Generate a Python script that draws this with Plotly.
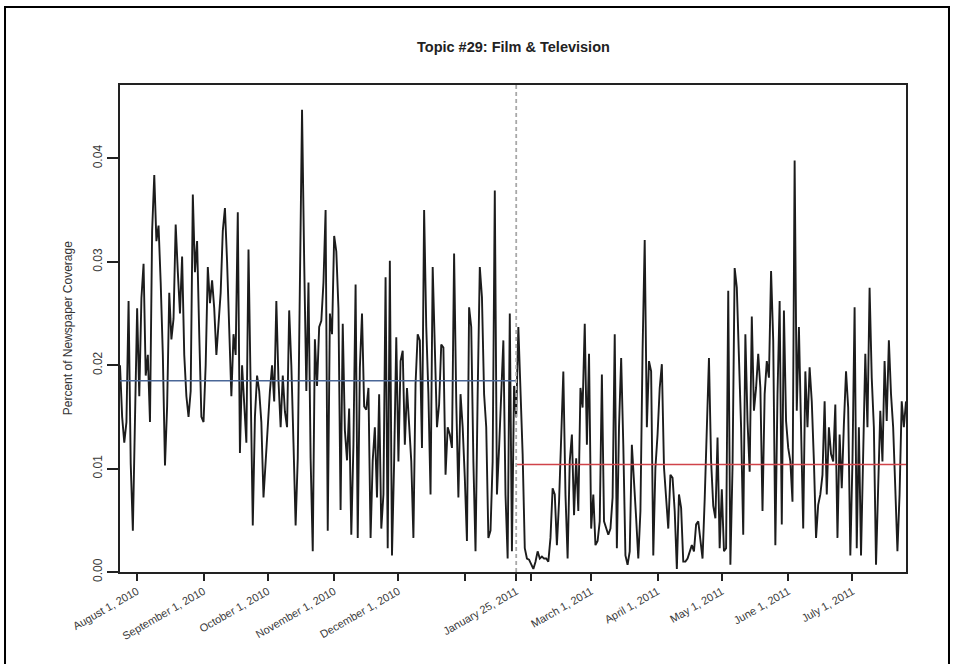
import pandas as pd
import plotly.graph_objects as go

# Daily share of newspaper coverage for topic #29, split at January 25, 2011
coverage_before = [
    0.0200, 0.0150, 0.0125, 0.0145, 0.0262, 0.0105, 0.0040, 0.0160, 0.0255, 0.0170,
    0.0265, 0.0298, 0.0190, 0.0210, 0.0145, 0.0330, 0.0384, 0.0320, 0.0335, 0.0280,
    0.0210, 0.0103, 0.0160, 0.0270, 0.0225, 0.0245, 0.0336, 0.0290, 0.0250, 0.0305,
    0.0210, 0.0170, 0.0150, 0.0175, 0.0365, 0.0290, 0.0320, 0.0230, 0.0150, 0.0145,
    0.0200, 0.0295, 0.0260, 0.0282, 0.0255, 0.0210, 0.0240, 0.0270, 0.0330, 0.0352,
    0.0300, 0.0225, 0.0170, 0.0230, 0.0210, 0.0348, 0.0115, 0.0200, 0.0165, 0.0125,
    0.0312, 0.0180, 0.0045, 0.0150, 0.0190, 0.0175, 0.0145, 0.0072, 0.0110, 0.0150,
    0.0175, 0.0200, 0.0165, 0.0262, 0.0185, 0.0140, 0.0190, 0.0155, 0.0140, 0.0253,
    0.0200, 0.0125, 0.0045, 0.0110, 0.0255, 0.0447, 0.0300, 0.0175, 0.0280, 0.0110,
    0.0020, 0.0225, 0.0180, 0.0237, 0.0243, 0.0280, 0.0350, 0.0040, 0.0250, 0.0230,
    0.0325, 0.0310, 0.0255, 0.0060, 0.0240, 0.0137, 0.0108, 0.0158, 0.0036, 0.0123,
    0.0278, 0.0033, 0.0198, 0.0250, 0.0160, 0.0157, 0.0178, 0.0033, 0.0108, 0.0140,
    0.0072, 0.0172, 0.0042, 0.0075, 0.0285, 0.0023, 0.0301, 0.0016, 0.0107, 0.0227,
    0.0107, 0.0204, 0.0214, 0.0123, 0.0178, 0.0140, 0.0107, 0.0033, 0.0182, 0.0230,
    0.0224, 0.0120, 0.0350, 0.0237, 0.0172, 0.0075, 0.0295, 0.0217, 0.0140, 0.0162,
    0.0220, 0.0217, 0.0094, 0.0140, 0.0133, 0.0120, 0.0308, 0.0165, 0.0072, 0.0172,
    0.0140, 0.0091, 0.0030, 0.0256, 0.0237, 0.0107, 0.0020, 0.0172, 0.0295, 0.0266,
    0.0172, 0.0140, 0.0033, 0.0040, 0.0107, 0.0369, 0.0075, 0.0120, 0.0172, 0.0224,
    0.0075, 0.0013, 0.0250, 0.0020, 0.0180,
]
coverage_after = [
    0.0150, 0.0237, 0.0182, 0.0114, 0.0023, 0.0013, 0.0012, 0.0008, 0.0003, 0.0010,
    0.0020, 0.0013, 0.0015, 0.0013, 0.0013, 0.0010, 0.0033, 0.0081, 0.0075, 0.0026,
    0.0068, 0.0130, 0.0194, 0.0075, 0.0013, 0.0107, 0.0133, 0.0055, 0.0110, 0.0059,
    0.0178, 0.0159, 0.0240, 0.0123, 0.0211, 0.0042, 0.0075, 0.0026, 0.0030, 0.0049,
    0.0191, 0.0049, 0.0042, 0.0036, 0.0042, 0.0072, 0.0230, 0.0023, 0.0140, 0.0207,
    0.0123, 0.0016, 0.0007, 0.0020, 0.0123, 0.0081, 0.0052, 0.0013, 0.0059, 0.0214,
    0.0321, 0.0140, 0.0204, 0.0194, 0.0016, 0.0101, 0.0133, 0.0178, 0.0201, 0.0101,
    0.0075, 0.0042, 0.0094, 0.0091, 0.0059, 0.0003, 0.0075, 0.0062, 0.0010, 0.0010,
    0.0013, 0.0020, 0.0026, 0.0020, 0.0046, 0.0049, 0.0033, 0.0013, 0.0070, 0.0130,
    0.0207, 0.0107, 0.0064, 0.0052, 0.0130, 0.0023, 0.0080, 0.0020, 0.0023, 0.0272,
    0.0007, 0.0101, 0.0294, 0.0275, 0.0214, 0.0140, 0.0036, 0.0230, 0.0146, 0.0097,
    0.0247, 0.0156, 0.0178, 0.0211, 0.0178, 0.0059, 0.0172, 0.0204, 0.0188, 0.0291,
    0.0224, 0.0026, 0.0172, 0.0262, 0.0046, 0.0253, 0.0146, 0.0120, 0.0107, 0.0068,
    0.0398, 0.0156, 0.0237, 0.0146, 0.0042, 0.0194, 0.0140, 0.0198, 0.0165, 0.0107,
    0.0033, 0.0065, 0.0075, 0.0094, 0.0165, 0.0075, 0.0140, 0.0114, 0.0107, 0.0162,
    0.0033, 0.0133, 0.0081, 0.0143, 0.0194, 0.0159, 0.0016, 0.0107, 0.0256, 0.0023,
    0.0140, 0.0016, 0.0107, 0.0211, 0.0140, 0.0275, 0.0188, 0.0140, 0.0007, 0.0091,
    0.0156, 0.0107, 0.0204, 0.0146, 0.0224, 0.0172, 0.0140, 0.0081, 0.0020, 0.0075,
    0.0165, 0.0140, 0.0165,
]

first_day = "2010-07-24"
break_day = "2011-01-25"

# Average coverage before and after the break
mean_before = 0.0185
mean_after = 0.0104

tick_dates = [
    "2010-08-01", "2010-09-01", "2010-10-01", "2010-11-01", "2010-12-01",
    "2011-01-01", "2011-01-25", "2011-02-01", "2011-03-01", "2011-04-01",
    "2011-05-01", "2011-06-01", "2011-07-01",
]
tick_labels = [
    "August 1, 2010", "September 1, 2010", "October 1, 2010", "November 1, 2010",
    "December 1, 2010", "", "January 25, 2011", "", "March 1, 2011",
    "April 1, 2011", "May 1, 2011", "June 1, 2011", "July 1, 2011",
]
y_ticks = [0.00, 0.01, 0.02, 0.03, 0.04]
y_tick_labels = ["0.00", "0.01", "0.02", "0.03", "0.04"]

coverage = coverage_before + coverage_after
days = pd.date_range(first_day, periods=len(coverage), freq="D")
last_day = days[-1]

FONT = "Liberation Sans, Arial, Helvetica, sans-serif"
INK = "#222222"

fig = go.Figure()
fig.add_trace(go.Scatter(
    x=days, y=coverage, mode="lines",
    line=dict(color="#1c1c1c", width=1.9),
    hoverinfo="x+y", showlegend=False,
))
fig.add_trace(go.Scatter(
    x=[days[0], pd.Timestamp(break_day)], y=[mean_before, mean_before],
    mode="lines", line=dict(color="#4a6797", width=1.5), showlegend=False,
))
fig.add_trace(go.Scatter(
    x=[pd.Timestamp(break_day), last_day], y=[mean_after, mean_after],
    mode="lines", line=dict(color="#d0434a", width=1.5), showlegend=False,
))

# Break marker
fig.add_shape(
    type="line", xref="x", yref="paper",
    x0=break_day, x1=break_day, y0=0, y1=1,
    line=dict(color="#a8a8a8", width=1.8, dash="4px,3px"), layer="above",
)

# Frame around the whole figure
fig.add_shape(
    type="rect", xref="paper", yref="paper",
    x0=-0.1463, x1=1.0547, y0=-0.23, y1=1.1602,
    line=dict(color="#000000", width=2), fillcolor="rgba(0,0,0,0)", layer="above",
)

fig.add_annotation(
    text="<b>Topic #29: Film &amp; Television</b>", xref="paper", yref="paper",
    x=0.5, y=1.078, xanchor="center", yanchor="middle", showarrow=False,
    font=dict(family=FONT, size=14.5, color=INK),
)
fig.add_annotation(
    text="Percent of Newspaper Coverage", xref="paper", yref="paper",
    x=-0.0665, y=0.5, xanchor="center", yanchor="middle", textangle=-90,
    showarrow=False, font=dict(family=FONT, size=12, color="#333333"),
)

fig.update_layout(
    width=953, height=664,
    margin=dict(l=120, r=47, t=85, b=92),
    paper_bgcolor="white", plot_bgcolor="white",
    font=dict(family=FONT, size=11, color="#3a3a3a"),
    showlegend=False,
)
fig.update_xaxes(
    range=[days[0], last_day],
    tickmode="array", tickvals=tick_dates, ticktext=tick_labels,
    tickangle=-30, tickfont=dict(size=11, color="#3a3a3a"),
    ticks="outside", ticklen=7, tickwidth=1.5, tickcolor=INK,
    showline=True, linecolor=INK, linewidth=1.8, mirror=True,
    showgrid=False, zeroline=False,
)
fig.update_yaxes(
    range=[0, 0.0471],
    tickmode="array", tickvals=y_ticks, ticktext=y_tick_labels,
    tickangle=-90, tickfont=dict(size=12, color="#3a3a3a"),
    ticks="outside", ticklen=11, tickwidth=1.5, tickcolor=INK,
    showline=True, linecolor=INK, linewidth=1.8, mirror=True,
    showgrid=False, zeroline=False,
)

fig.write_html("out.html")
